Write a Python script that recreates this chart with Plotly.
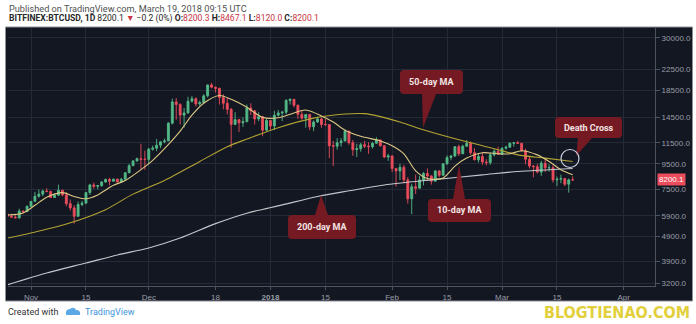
import numpy as np
import pandas as pd
import plotly.graph_objects as go

# ---------------- data ----------------
dates = pd.date_range("2017-10-26", "2018-03-19", freq="D")

open_ = [6000, 5880, 5840, 5800, 6170, 6140,
         6450, 6740, 7060, 7200, 7400, 7380, 6980, 7130, 7460, 7150, 6600, 6350, 5880, 6550, 6630,
         7300, 7830, 7730, 7780, 8040, 8230, 8100, 8250, 8050, 8250, 8750, 9330, 9750, 9950, 9900,
         9880, 10850, 10950, 11250, 11600, 11700, 13750, 16700, 16300, 14800, 15100, 16800, 17200, 16400, 16600,
         17650, 19500, 19100, 18900, 17400, 16500, 15600, 13600, 14200, 13800, 13950, 15800, 15400, 14300, 14600, 12900,
         14100, 13400, 14800, 15100, 15200, 16900, 17100, 16200, 14900, 14400, 14900, 13300, 13900, 14300, 13600,
         13580, 11200, 11150, 11500, 11700, 12800, 11500, 10800, 10900, 11300, 11150, 11100, 11450, 11800, 11200, 10100,
         10200, 9100, 8900, 9200, 8200, 6900, 7700, 7600, 8200, 8700, 8500, 8100, 8900, 8550,
         9500, 10050, 10200, 11100, 10400, 11150, 11450, 10500, 9850, 10150, 9650, 9600, 10300, 10650,
         10350, 10950, 11050, 11450, 11500, 11450, 10700, 9900, 9300, 9250, 8800, 9550, 9150, 9160,
         8200, 8250, 8300, 7880, 8200.3]
high = [6080, 6020, 5950, 6300, 6200, 6470,
        6750, 7350, 7500, 7500, 7600, 7420, 7250, 7850, 7480, 7320, 6850, 6500, 6730, 6770, 7350,
        7900, 8000, 7830, 8100, 8300, 8350, 8300, 8300, 8350, 8800, 9500, 9800, 10050, 11400, 10700,
        10980, 11200, 11900, 11650, 11950, 13900, 17200, 17300, 16500, 15800, 17500, 17650, 17400, 16900, 17900,
        19550, 19890, 19200, 19000, 17900, 17300, 15800, 15200, 14300, 14500, 16300, 16500, 15500, 15200, 14700, 14300,
        14100, 15400, 15500, 15400, 17150, 17250, 17150, 16300, 15400, 14950, 14950, 14100, 14600, 14450, 14300,
        13600, 11700, 12000, 12000, 13000, 12800, 11800, 11400, 11500, 11700, 11550, 11600, 12100, 11850, 11250, 10400,
        10250, 9100, 9500, 9400, 8400, 7900, 8600, 8500, 8800, 9100, 8550, 8950, 8950, 9500,
        10250, 10300, 11150, 11300, 11300, 11800, 11650, 10950, 10450, 10500, 9900, 10500, 10850, 11100,
        11000, 11200, 11550, 11550, 11700, 11450, 10900, 10100, 9400, 9500, 9750, 9900, 9450, 9350,
        8450, 8600, 8350, 8300, 8467.1]
low = [5820, 5800, 5780, 5750, 6040, 6120,
       6380, 6720, 6970, 7060, 7320, 6950, 6950, 7080, 7050, 6450, 6200, 5500, 5860, 6450, 6620,
       7150, 7560, 7520, 7700, 7990, 7800, 8080, 8000, 8000, 8200, 8720, 9300, 9680, 9000, 9000,
       9450, 10700, 10650, 10950, 11450, 11700, 13600, 14200, 13600, 13200, 15000, 16600, 16000, 16100, 16500,
       17400, 18900, 18200, 16300, 15600, 14900, 11000, 13500, 12700, 13300, 13850, 14800, 13600, 14000, 12200, 12800,
       12900, 12900, 14600, 14000, 14900, 16300, 15900, 14300, 14200, 13200, 12900, 12800, 13800, 13200, 13400,
       10000, 9300, 10800, 11100, 11650, 11300, 10200, 10100, 10600, 10950, 10400, 10900, 11400, 11100, 10000, 9750,
       8800, 7700, 8200, 7950, 6600, 6000, 7200, 7600, 7800, 8200, 7850, 8100, 8400, 8550,
       9400, 9800, 10100, 10200, 10400, 11100, 10300, 9800, 9600, 9400, 9350, 9400, 10150, 10300,
       10300, 10800, 11000, 11100, 11400, 10600, 9450, 9100, 8400, 8700, 8500, 8800, 8850, 8000,
       7750, 7950, 7750, 7300, 8120.0]
close = [5880, 5840, 5800, 6170, 6140, 6450,
         6740, 7060, 7200, 7400, 7380, 6980, 7130, 7460, 7150, 6600, 6350, 5880, 6550, 6630, 7300,
         7830, 7730, 7780, 8040, 8230, 8100, 8250, 8050, 8250, 8750, 9330, 9750, 9950, 9900, 9880,
         10850, 10950, 11250, 11600, 11700, 13750, 16700, 16300, 14800, 15100, 16800, 17200, 16400, 16600, 17650,
         19500, 19100, 18900, 17400, 16500, 15600, 13600, 14200, 13800, 13950, 15800, 15400, 14300, 14600, 12900, 14100,
         13400, 14800, 15100, 15200, 16900, 17100, 16200, 14900, 14400, 14900, 13300, 13900, 14300, 13600, 13580,
         11200, 11150, 11500, 11700, 12800, 11500, 10800, 10900, 11300, 11150, 11100, 11450, 11800, 11200, 10100, 10200,
         9100, 8900, 9200, 8200, 6900, 7700, 7600, 8200, 8700, 8500, 8100, 8900, 8550, 9500,
         10050, 10200, 11100, 10400, 11150, 11450, 10500, 9850, 10150, 9650, 9600, 10300, 10650, 10350,
         10950, 11050, 11450, 11500, 11450, 10700, 9900, 9300, 9250, 8800, 9550, 9150, 9160, 8200,
         8250, 8300, 7880, 8200, 8200.1]

ma10_dates = ["2017-10-26", "2017-10-30", "2017-11-02", "2017-11-05", "2017-11-09", "2017-11-12",
              "2017-11-15", "2017-11-18", "2017-11-22", "2017-11-25", "2017-11-29", "2017-12-02",
              "2017-12-05", "2017-12-09", "2017-12-12", "2017-12-15", "2017-12-19", "2017-12-22",
              "2017-12-26", "2017-12-30", "2018-01-03", "2018-01-07", "2018-01-10", "2018-01-14",
              "2018-01-17", "2018-01-20", "2018-01-24", "2018-01-29", "2018-02-01", "2018-02-04",
              "2018-02-07", "2018-02-10", "2018-02-14", "2018-02-17", "2018-02-20", "2018-02-24",
              "2018-02-28", "2018-03-03", "2018-03-06", "2018-03-10", "2018-03-13", "2018-03-16",
              "2018-03-19"]
ma10 = [5950, 6060, 6500, 7000, 7300, 7050, 6900, 7150, 7800, 8150, 9000, 9800, 10900, 12800,
        14800, 16500, 17700, 17100, 15900, 14500, 14450, 15100, 15500, 14700, 13900, 12900, 12200,
        11700, 11200, 10400, 8900, 8300, 8350, 9300, 10000, 10500, 10400, 10400, 10700, 10300,
        9700, 9000, 8600]

ma50_dates = ["2017-10-26", "2017-11-01", "2017-11-10", "2017-11-20", "2017-11-27", "2017-12-05",
              "2017-12-14", "2017-12-21", "2017-12-26", "2018-01-03", "2018-01-12", "2018-01-20",
              "2018-01-25", "2018-01-29", "2018-02-03", "2018-02-10", "2018-02-20", "2018-02-28",
              "2018-03-05", "2018-03-12", "2018-03-19"]
ma50 = [4820, 5050, 5480, 6250, 7200, 8150, 9700, 11100, 11900, 13200, 14400, 14950, 15000,
        14600, 13900, 12800, 11600, 10800, 10300, 10000, 9700]

ma200_dates = ["2017-10-26", "2017-11-05", "2017-11-15", "2017-11-23", "2017-12-01", "2017-12-09",
               "2017-12-18", "2017-12-26", "2018-01-04", "2018-01-13", "2018-01-21", "2018-01-30",
               "2018-02-11", "2018-02-24", "2018-03-05", "2018-03-19"]
ma200 = [3150, 3508, 3840, 4133, 4406, 4824, 5500, 6050, 6525, 7050, 7420, 7830, 8200, 8580,
         8850, 9100]

last_price = 8200.1

x_tickvals = ["2017-11-01", "2017-11-15", "2017-12-01", "2017-12-18", "2018-01-01", "2018-01-15",
              "2018-02-01", "2018-02-15", "2018-03-01", "2018-03-15", "2018-04-01"]
x_ticktext = ["Nov", "15", "Dec", "18", "<b>2018</b>", "15", "Feb", "15", "Mar", "15", "Apr"]
y_tickvals = [3200, 3900, 4900, 5900, 7500, 9500, 11500, 14500, 18500, 22500, 30000]
y_ticktext = [f"{v:.1f}" for v in y_tickvals]

# ---------------- layout geometry ----------------
W, H = 696, 324
L, R, T, B = 8, 655, 28, 286          # plot area in pixels
PW, PH = R - L, B - T


def px(x):
    return (x - L) / PW


def py(y):
    return (B - y) / PH


BG = "#131722"
GRID = "#242a38"
AXC = "#4c525e"
TXT = "#9a9da6"
UP, DOWN = "#53b987", "#eb4d5c"
BOX = "#7a1a23"

fig = go.Figure()
fig.add_trace(go.Candlestick(
    x=dates, open=open_, high=high, low=low, close=close,
    increasing=dict(line=dict(color=UP, width=0.9), fillcolor=UP),
    decreasing=dict(line=dict(color=DOWN, width=0.9), fillcolor=DOWN),
    whiskerwidth=0, showlegend=False, hoverinfo="skip"))
fig.add_trace(go.Scatter(x=pd.to_datetime(ma200_dates), y=ma200, mode="lines",
                         line=dict(color="#c4c6cc", width=1.1, shape="spline", smoothing=0.8),
                         showlegend=False, hoverinfo="skip"))
fig.add_trace(go.Scatter(x=pd.to_datetime(ma50_dates), y=ma50, mode="lines",
                         line=dict(color="#b3a333", width=1.1, shape="spline", smoothing=0.8),
                         showlegend=False, hoverinfo="skip"))
fig.add_trace(go.Scatter(x=pd.to_datetime(ma10_dates), y=ma10, mode="lines",
                         line=dict(color="#dcc783", width=1.1, shape="spline", smoothing=0.8),
                         showlegend=False, hoverinfo="skip"))

shapes = []
# dark panel behind chart + axes
shapes.append(dict(type="rect", xref="paper", yref="paper", layer="below",
                   x0=px(5.5), x1=px(692.5), y0=py(301), y1=py(27),
                   fillcolor=BG, line=dict(color="#8c9099", width=1)))
# last price line
shapes.append(dict(type="line", xref="paper", yref="y", x0=0, x1=1,
                   y0=np.log10(last_price), y1=np.log10(last_price),
                   line=dict(color="#7d2f3d", width=1), layer="below"))


def callout(x0, y0, x1, y1, bx0, bx1, tx, ty, side, r=4):
    if side == "bottom":
        pts = (f"M{px(x0+r)},{py(y0)} L{px(x1-r)},{py(y0)} Q{px(x1)},{py(y0)} {px(x1)},{py(y0+r)} "
               f"L{px(x1)},{py(y1-r)} Q{px(x1)},{py(y1)} {px(x1-r)},{py(y1)} "
               f"L{px(bx1)},{py(y1)} L{px(tx)},{py(ty)} L{px(bx0)},{py(y1)} "
               f"L{px(x0+r)},{py(y1)} Q{px(x0)},{py(y1)} {px(x0)},{py(y1-r)} "
               f"L{px(x0)},{py(y0+r)} Q{px(x0)},{py(y0)} {px(x0+r)},{py(y0)} Z")
    else:
        pts = (f"M{px(x0+r)},{py(y0)} L{px(bx0)},{py(y0)} L{px(tx)},{py(ty)} L{px(bx1)},{py(y0)} "
               f"L{px(x1-r)},{py(y0)} Q{px(x1)},{py(y0)} {px(x1)},{py(y0+r)} "
               f"L{px(x1)},{py(y1-r)} Q{px(x1)},{py(y1)} {px(x1-r)},{py(y1)} "
               f"L{px(x0+r)},{py(y1)} Q{px(x0)},{py(y1)} {px(x0)},{py(y1-r)} "
               f"L{px(x0)},{py(y0+r)} Q{px(x0)},{py(y0)} {px(x0+r)},{py(y0)} Z")
    return dict(type="path", xref="paper", yref="paper", path=pts, fillcolor=BOX,
                line=dict(width=0), opacity=0.95, layer="above")


callouts = [
    ("50-day MA", (400, 70, 463, 94, 422, 436, 423, 128, "bottom")),
    ("200-day MA", (288, 215, 356, 239, 315, 328, 321, 195, "top")),
    ("10-day MA", (428, 199, 491, 222, 453, 465, 459, 165, "top")),
    ("Death Cross", (555, 117, 622, 138, 578, 592, 576, 156, "bottom")),
]
annotations = []
for label, g in callouts:
    shapes.append(callout(*g))
    annotations.append(dict(xref="paper", yref="paper", x=px((g[0] + g[2]) / 2),
                            y=py((g[1] + g[3]) / 2), text=f"<b>{label}</b>", showarrow=False,
                            font=dict(family="Roboto", size=9, color="#f2e4e4"),
                            xanchor="center", yanchor="middle"))

# death-cross circle
shapes.append(dict(type="circle", xref="paper", yref="paper", x0=px(561), x1=px(579),
                   y0=py(167.5), y1=py(149.5), line=dict(color="#c9d1e2", width=1.2),
                   layer="above"))

# TradingView logo (small cloud)
cx, cy = 73, 312
logo = (f"M{px(cx-7)},{py(cy+3)} L{px(cx+7)},{py(cy+3)} Q{px(cx+8)},{py(cy-2)} {px(cx+3)},{py(cy-2)} "
        f"Q{px(cx+1)},{py(cy-6)} {px(cx-3)},{py(cy-3)} Q{px(cx-8)},{py(cy-3)} {px(cx-7)},{py(cy+3)} Z")
shapes.append(dict(type="path", xref="paper", yref="paper", path=logo, fillcolor="#5aa8e6",
                   line=dict(width=0), layer="above"))

# header
annotations.append(dict(xref="paper", yref="paper", x=px(7), y=py(8), xanchor="left",
                        yanchor="middle", showarrow=False,
                        text="Published on TradingView.com, March 19, 2018 09:15 UTC",
                        font=dict(family="Roboto", size=9.2, color="#505050")))
red = "#c9343f"
hdr = (f"<b>BITFINEX:BTCUSD, 1D</b> 8200.1 <span style='color:{red}'>▼</span> −0.2 (0%) "
       f"<b>O:</b><span style='color:{red}'>8200.3</span> <b>H:</b><span style='color:{red}'>8467.1</span> "
       f"<b>L:</b><span style='color:{red}'>8120.0</span> <b>C:</b><span style='color:{red}'>8200.1</span>")
annotations.append(dict(xref="paper", yref="paper", x=px(7), y=py(19), xanchor="left",
                        yanchor="middle", showarrow=False, text=hdr,
                        font=dict(family="Roboto", size=8.6, color="#262626")))
# footer
annotations.append(dict(xref="paper", yref="paper", x=px(6), y=py(312), xanchor="left",
                        yanchor="middle", showarrow=False, text="Created with",
                        font=dict(family="Roboto", size=9, color="#333333")))
annotations.append(dict(xref="paper", yref="paper", x=px(83), y=py(312), xanchor="left",
                        yanchor="middle", showarrow=False, text="TradingView",
                        font=dict(family="Roboto", size=9, color="#3d94dc")))
annotations.append(dict(xref="paper", yref="paper", x=px(692), y=py(312), xanchor="right",
                        yanchor="middle", showarrow=False, text="<b>BLOGTIENAO.COM</b>",
                        font=dict(family="Liberation Sans Narrow, DejaVu Sans Condensed",
                                  size=16, color="#e2cf3c")))
# last price badge on the price scale
annotations.append(dict(xref="paper", yref="y", x=1, xshift=2, y=np.log10(last_price),
                        xanchor="left", yanchor="middle", showarrow=False,
                        text=f"{last_price:.1f}", bgcolor=DOWN, borderpad=1,
                        font=dict(family="Liberation Sans", size=8, color="#ffffff")))

fig.update_layout(
    width=W, height=H, margin=dict(l=L, r=W - R, t=T, b=H - B, autoexpand=False),
    paper_bgcolor="#ffffff", plot_bgcolor=BG, showlegend=False,
    shapes=shapes, annotations=annotations,
    xaxis=dict(type="date", range=["2017-10-26 03:20", "2018-04-08 23:30"],
               tickvals=x_tickvals, ticktext=x_ticktext, showgrid=True, gridcolor=GRID,
               gridwidth=1, zeroline=False, showline=True, linecolor=AXC, ticks="outside",
               ticklen=3, tickcolor=AXC, tickfont=dict(family="Liberation Sans", size=8, color=TXT),
               rangeslider=dict(visible=False), fixedrange=True),
    yaxis=dict(type="log", range=[3.4933, 4.5155], side="right", tickvals=y_tickvals,
               ticktext=y_ticktext, showgrid=True, gridcolor=GRID, gridwidth=1, zeroline=False,
               showline=True, linecolor=AXC, ticks="outside", ticklen=4, tickcolor=AXC,
               tickfont=dict(family="Liberation Sans", size=8, color=TXT), fixedrange=True),
)

fig.write_html("out.html")
